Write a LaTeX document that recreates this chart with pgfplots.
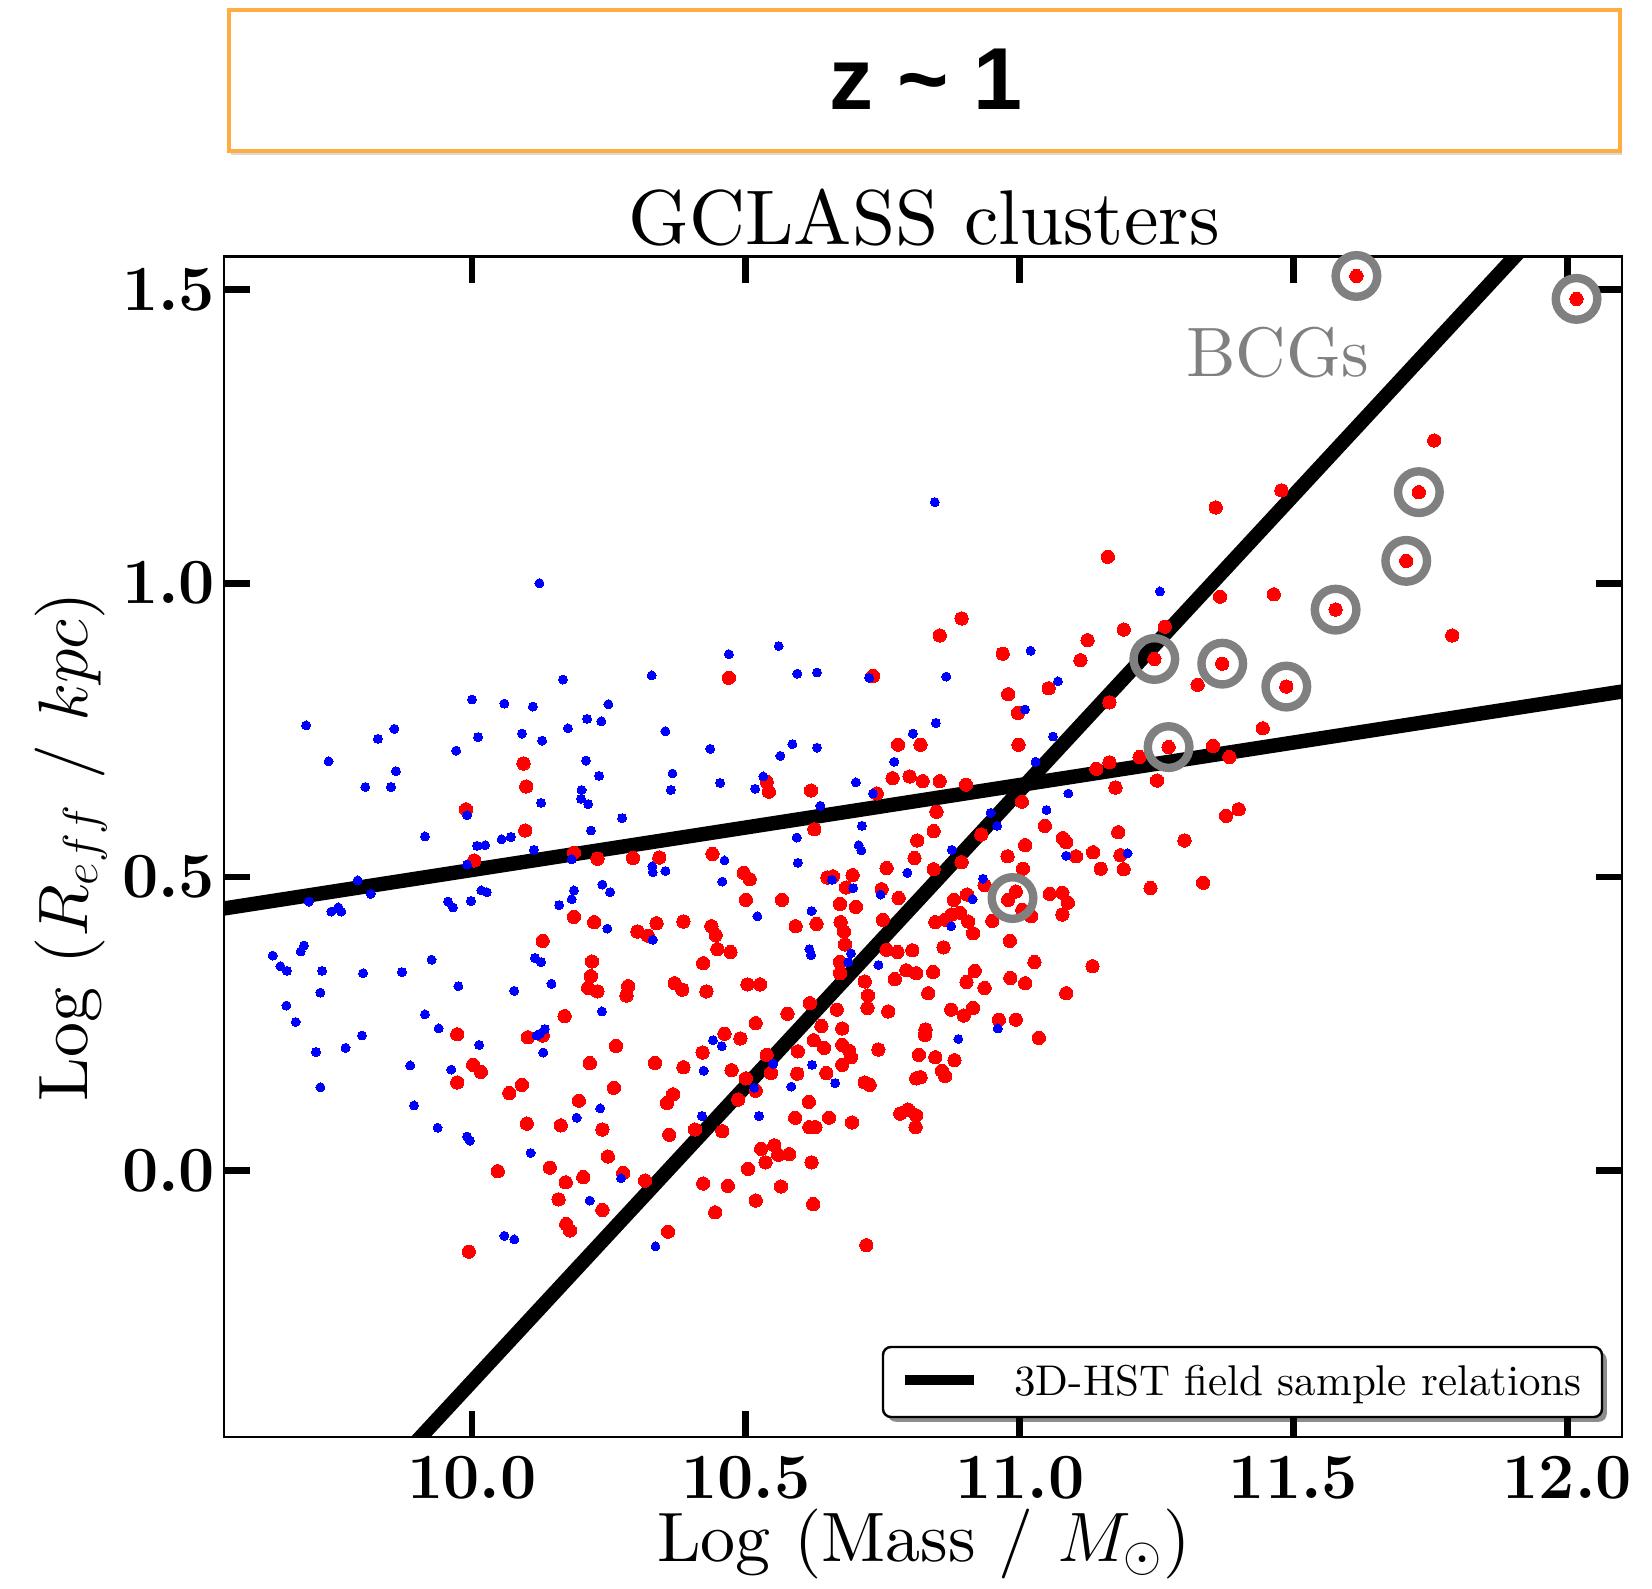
\documentclass[border=0pt]{standalone}
\usepackage{fix-cm}
\usepackage{pgfplots}
\pgfplotsset{compat=1.18}
\usepackage{fontspec}
\usetikzlibrary{shadows}
\newfontfamily\zfont{Liberation Sans}
\newfontfamily\lmten{lmroman10-regular}[Extension=.otf]
\definecolor{boxorange}{RGB}{255,172,64}
\definecolor{ringgray}{RGB}{128,128,128}
\begin{document}
\begin{tikzpicture}
\useasboundingbox (0,0) rectangle (413pt,397pt);
% title box
\path[draw=boxorange, line width=1pt, fill=white, drop shadow={shadow xshift=0.5pt, shadow yshift=-1pt, opacity=0.3}] (57.25pt,359.3pt) rectangle (405pt,394.4pt);
\node[anchor=base, inner sep=0pt] at (231.5pt,369.5pt) {\zfont\bfseries\fontsize{22}{24}\selectfont z \textasciitilde{} 1};
\node[anchor=base, inner sep=0pt] at (231pt,335.75pt) {\lmten\fontsize{19.4}{22}\selectfont GCLASS clusters};
\begin{axis}[
  at={(56pt,37.75pt)}, anchor=south west,
  width=349.5pt, height=295.1pt, scale only axis,
  xmin=9.547, xmax=12.1, ymin=-0.4535, ymax=1.556,
  xtick={10,10.5,11,11.5,12}, ytick={0,0.5,1,1.5},
  tick align=inside, major tick length=6.5pt,
  major tick style={black, line width=1.7pt},
  axis line style={line width=0.7pt},
  xticklabel style={anchor=north, inner sep=0pt, yshift=-4.8pt},
  yticklabel style={anchor=east, inner sep=0pt, xshift=-2pt},
  ticklabel style={font=\fontsize{16.1}{17}\selectfont\boldmath},
  /pgf/number format/fixed, /pgf/number format/fixed zerofill, /pgf/number format/precision=1,
]
% red points
\addplot[only marks, mark=*, color=red, mark size=1.66pt, mark options={fill=red, draw=red, line width=0pt}] coordinates {
(10.469,0.839) (10.732,0.842) (10.894,0.940) (10.854,0.911) (10.969,0.880) (10.979,0.811) (11.053,0.821) (10.997,0.779)
(11.478,1.158) (11.358,1.129) (11.161,1.045) (11.366,0.977) (11.464,0.981) (11.190,0.921) (11.124,0.903) (11.111,0.869) (11.265,0.926) (11.246,0.871) (11.370,0.863) (11.487,0.824) (11.577,0.955) (11.706,1.038) (11.729,1.155) (11.790,0.911) (11.325,0.827) (11.164,0.797) (11.444,0.753)
(11.272,0.721) (11.353,0.723) (11.383,0.704) (11.219,0.704) (11.164,0.695) (11.140,0.684) (11.251,0.664) (11.175,0.652) (11.400,0.615) (11.377,0.604) (11.180,0.576) (11.079,0.566) (11.085,0.559) (11.103,0.535) (11.134,0.542) (11.184,0.537) (11.301,0.562) (11.148,0.514) (11.190,0.513) (11.239,0.481) (11.335,0.490) (11.078,0.473) (11.088,0.456) (11.078,0.436) (11.133,0.348) (11.085,0.302)
(10.094,0.693) (10.099,0.654) (9.989,0.615) (10.097,0.579) (10.004,0.528) (10.186,0.541) (10.229,0.531) (10.294,0.532) (10.342,0.533) (10.186,0.432) (10.223,0.423) (10.302,0.407) (10.321,0.400) (10.337,0.421) (10.129,0.391) (10.219,0.356) (10.217,0.331) (10.212,0.311) (10.229,0.305) (10.285,0.314) (10.282,0.298)
(10.778,0.725) (10.819,0.725) (10.998,0.725) (10.768,0.668) (10.799,0.671) (10.823,0.663) (10.854,0.663) (10.902,0.657) (10.739,0.642) (10.619,0.647) (10.538,0.662) (10.542,0.645) (10.625,0.581) (10.848,0.611) (10.843,0.578) (10.813,0.562) (11.004,0.628) (11.046,0.587) (10.930,0.572) (10.808,0.532) (10.757,0.515) (10.843,0.513) (10.894,0.525) (10.978,0.535) (11.010,0.554) (11.006,0.514) (10.936,0.486) (10.993,0.475) (10.979,0.461) (10.904,0.470) (10.880,0.461) (11.005,0.444) (11.021,0.433) (10.950,0.425) (10.439,0.539) (10.496,0.507) (10.507,0.496) (10.500,0.461) (10.566,0.461) (10.649,0.499) (10.659,0.501) (10.695,0.503) (10.683,0.482) (10.672,0.454) (10.701,0.449) (10.748,0.479) (10.779,0.464) (10.750,0.427) (10.673,0.423) (10.679,0.407) (10.681,0.385) (10.591,0.416) (10.629,0.420) (10.386,0.424) (10.437,0.416) (10.445,0.401) (10.448,0.377) (10.472,0.372) (10.422,0.353) (10.370,0.319) (10.384,0.308) (10.503,0.317) (10.526,0.317) (10.428,0.305) (10.672,0.355) (10.672,0.336) (10.717,0.322) (10.723,0.298) (10.757,0.376) (10.777,0.372) (10.804,0.375) (10.861,0.380) (10.846,0.423) (10.864,0.427) (10.876,0.436) (10.891,0.439) (10.906,0.424) (10.915,0.404) (10.982,0.391) (11.027,0.355) (10.918,0.340) (10.903,0.321) (10.936,0.311) (10.983,0.328) (11.010,0.319) (10.842,0.338) (10.811,0.336) (10.793,0.341) (10.772,0.326) (10.833,0.302) (11.055,0.471)
(9.973,0.232) (10.002,0.180) (10.016,0.168) (9.973,0.150) (10.068,0.132) (10.091,0.146) (10.102,0.227) (10.129,0.230) (10.169,0.263) (10.263,0.212) (10.215,0.183) (10.334,0.183) (10.259,0.141) (10.195,0.119) (10.100,0.080) (10.162,0.077) (10.238,0.070) (10.248,0.024) (10.142,0.005) (10.171,-0.020) (10.203,-0.011) (10.276,-0.004) (10.316,-0.017) (10.158,-0.049) (10.238,-0.067) (10.172,-0.091) (10.179,-0.102) (10.047,-0.001) (9.994,-0.138)
(10.617,0.285) (10.666,0.274) (10.722,0.277) (10.760,0.271) (10.875,0.274) (10.915,0.277) (10.898,0.264) (10.576,0.267) (10.518,0.251) (10.638,0.246) (10.676,0.242) (10.624,0.222) (10.643,0.209) (10.676,0.214) (10.689,0.204) (10.692,0.193) (10.676,0.180) (10.595,0.203) (10.742,0.206) (10.828,0.240) (10.827,0.231) (10.816,0.197) (10.846,0.193) (10.881,0.188) (10.858,0.170) (10.864,0.161) (10.811,0.157) (10.819,0.159) (10.717,0.150) (10.726,0.146) (10.962,0.257) (10.993,0.257) (11.035,0.226) (10.461,0.233) (10.490,0.225) (10.421,0.201) (10.386,0.176) (10.474,0.171) (10.538,0.197) (10.546,0.166) (10.594,0.165) (10.647,0.166) (10.500,0.157) (10.518,0.136) (10.486,0.121) (10.367,0.130) (10.356,0.115) (10.615,0.117) (10.590,0.090) (10.652,0.090) (10.616,0.074) (10.627,0.074) (10.694,0.082) (10.782,0.097) (10.796,0.104) (10.811,0.094) (10.810,0.074) (10.360,0.061) (10.407,0.070) (10.457,0.067) (10.528,0.037) (10.552,0.043) (10.559,0.027) (10.579,0.028) (10.620,0.014) (10.504,0.003) (10.536,0.014) (10.422,-0.022) (10.467,-0.026) (10.564,-0.027) (10.518,-0.051) (10.623,-0.057) (10.444,-0.071) (10.358,-0.104) (10.720,-0.127)
(11.615,1.523) (12.017,1.484) (11.757,1.243)
};
% blue points
\addplot[only marks, mark=*, color=blue, mark size=1.12pt, mark options={fill=blue, draw=blue, line width=0pt}] coordinates {
(10.123,1.000) (10.166,0.836) (10.328,0.843) (10.000,0.802) (10.059,0.795) (10.111,0.790) (10.249,0.794) (9.697,0.758) (9.858,0.752) (9.828,0.735) (10.011,0.738) (10.091,0.744) (10.128,0.732) (10.175,0.753) (10.210,0.769) (10.236,0.765)
(10.845,1.138) (10.469,0.879) (10.560,0.893) (10.594,0.846) (10.630,0.848) (10.725,0.839) (10.866,0.841) (11.020,0.885) (11.070,0.833) (11.010,0.785) (10.847,0.762) (10.805,0.744) (10.353,0.748) (11.061,0.739)
(11.256,0.986) (11.089,0.642) (11.085,0.536) (11.197,0.540)
(9.738,0.697) (9.805,0.653) (9.852,0.653) (9.861,0.680) (9.971,0.715) (9.991,0.605) (9.914,0.569) (10.009,0.553) (10.024,0.554) (10.054,0.564) (10.071,0.568) (10.113,0.546) (10.126,0.626) (10.208,0.698) (10.232,0.672) (10.200,0.648) (10.199,0.633) (10.212,0.624) (10.217,0.579) (10.274,0.600) (9.791,0.494) (9.815,0.471) (9.702,0.458) (9.743,0.441) (9.756,0.448) (9.761,0.441) (9.956,0.458) (9.965,0.448) (9.998,0.459) (10.017,0.477) (10.027,0.474) (9.991,0.521) (10.182,0.530) (10.238,0.487) (10.252,0.474) (10.186,0.477) (10.182,0.462) (10.159,0.452) (10.247,0.412) (10.329,0.518) (10.330,0.508) (10.330,0.393) (9.636,0.366) (9.650,0.348) (9.662,0.340) (9.687,0.373) (9.693,0.383) (9.726,0.340) (9.801,0.336) (9.872,0.338) (9.926,0.359) (10.115,0.362) (10.126,0.355) (10.145,0.318) (9.975,0.314) (10.077,0.306) (9.723,0.303)
(10.435,0.718) (10.585,0.726) (10.563,0.706) (10.630,0.720) (10.771,0.696) (10.366,0.676) (10.363,0.648) (10.453,0.660) (10.517,0.650) (10.532,0.671) (10.701,0.661) (10.732,0.642) (10.636,0.621) (10.712,0.587) (10.593,0.567) (10.706,0.554) (10.711,0.545) (10.461,0.528) (10.353,0.510) (10.457,0.492) (10.595,0.524) (10.657,0.495) (10.696,0.481) (10.746,0.470) (10.795,0.507) (10.876,0.546) (10.947,0.609) (10.959,0.587) (11.029,0.696) (11.049,0.614) (10.933,0.497) (10.914,0.462) (10.875,0.416) (10.521,0.433) (10.620,0.442) (10.616,0.377) (10.619,0.367) (10.692,0.370) (10.687,0.355) (10.742,0.350)
(9.661,0.281) (9.678,0.253) (9.715,0.202) (9.769,0.209) (9.799,0.230) (9.723,0.142) (9.914,0.266) (9.939,0.242) (9.887,0.179) (9.962,0.172) (10.013,0.214) (9.894,0.111) (9.937,0.073) (9.991,0.058) (9.996,0.051) (10.107,0.030) (10.118,0.230) (10.124,0.233) (10.133,0.241) (10.130,0.201) (10.191,0.090) (10.234,0.106) (10.237,0.271) (10.272,-0.013) (10.215,-0.051) (10.059,-0.111) (10.077,-0.117) (10.335,-0.129)
(10.440,0.222) (10.456,0.212) (10.423,0.170) (10.550,0.182) (10.515,0.141) (10.621,0.180) (10.583,0.143) (10.663,0.149) (10.420,0.093) (10.524,0.093) (10.888,0.224) (10.960,0.242)
};
% BCG rings
\addplot[only marks, mark=o, mark size=5.2pt, mark options={draw=ringgray, line width=2.1pt}] coordinates {
(11.246,0.871) (11.370,0.863) (11.487,0.824) (11.577,0.955) (11.706,1.038) (11.729,1.155) (11.272,0.721) (10.987,0.464) (11.615,1.523) (12.017,1.484)
};
% field relations
\addplot[black, line width=3.6pt] coordinates {(9.85,-0.510) (11.95,1.602)};
\addplot[black, line width=3.6pt] coordinates {(9.4,0.425) (12.2,0.830)};
\end{axis}
\node[anchor=base west, inner sep=0pt, text=ringgray] at (296.3pt,302.75pt) {\lmten\fontsize{17.5}{20}\selectfont BCGs};
\node[anchor=base, inner sep=0pt] at (231pt,6.75pt) {\lmten\fontsize{17.5}{20}\selectfont Log (Mass / $M_{\odot}$)};
\node[anchor=base, inner sep=0pt, rotate=90] at (21.8pt,185.25pt) {\lmten\fontsize{17.5}{20}\selectfont Log ($R_{eff}$ / $kpc$)};
% legend
\path[draw=black, line width=0.6pt, fill=white, rounded corners=2pt, drop shadow={shadow xshift=1.2pt, shadow yshift=-1.2pt, opacity=0.45, fill=black}] (220.75pt,42.75pt) rectangle (400.5pt,60.25pt);
\draw[line width=2.5pt] (226.25pt,52pt) -- (243.5pt,52pt);
\node[anchor=base west, inner sep=0pt] at (253.4pt,48.25pt) {\lmten\fontsize{10.75}{12}\selectfont 3D-HST field sample relations};
\end{tikzpicture}
\end{document}
